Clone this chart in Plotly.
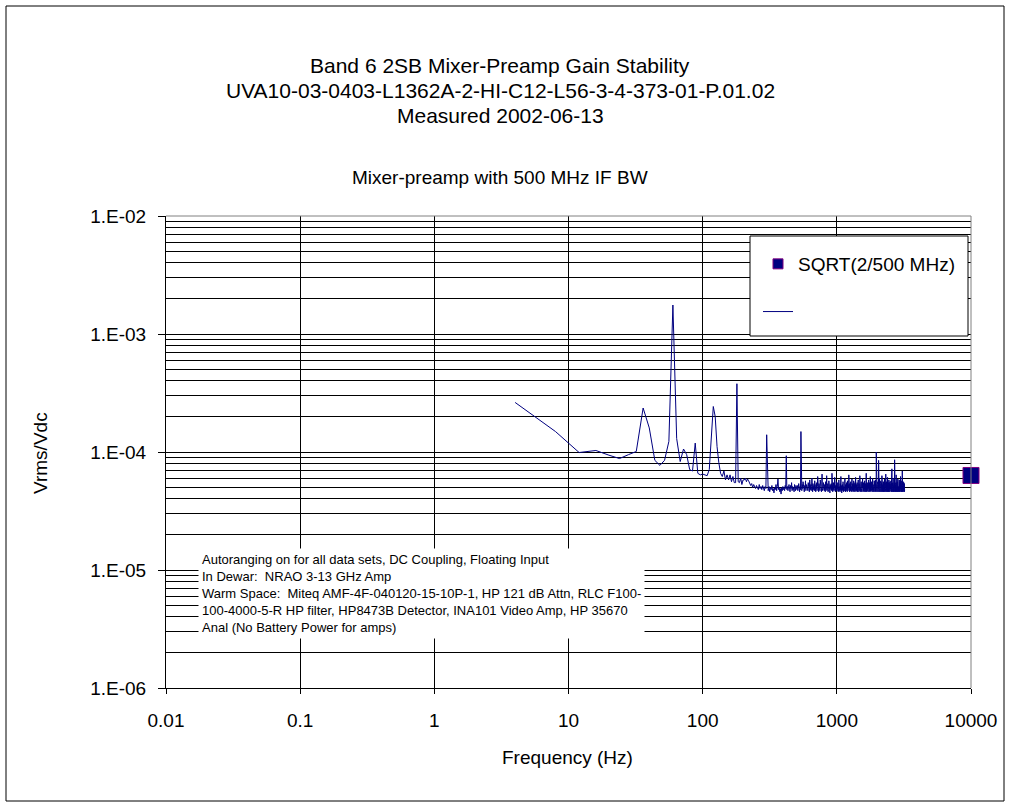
import plotly.graph_objects as go

# ---------------- data ----------------
freq_step_hz = 4  # FFT bin spacing (800 lines, 3.2 kHz span)

# Vrms/Vdc in units of 1e-6, 4 Hz ... 200 Hz
low_band = [263, 149, 99, 103, 94, 88, 95, 101, 236, 160,
            85, 77, 85, 123, 1760, 130, 83, 106, 95, 71,
            69, 119, 66, 64, 65, 64, 63, 71, 145, 243,
            200, 111, 81, 66, 62, 69, 58, 64, 58, 64,
            56, 62, 55, 55, 379, 56, 55, 60, 53, 58]

# 204 Hz ... 3200 Hz, one row per 100 Hz
high_band = [
    58, 60, 56, 59, 57, 55, 52, 54, 50, 53, 51, 49, 52, 50, 48, 53, 49, 51, 48, 52, 50, 47, 51, 49, 140,
    49, 47, 51, 46, 50, 48, 52, 47, 49, 45, 50, 48, 53, 47, 51, 59, 48, 50, 46, 49, 44, 50, 47, 51, 48,
    50, 47, 52, 49, 93, 48, 51, 47, 50, 53, 48, 46, 52, 49, 55, 47, 51, 48, 50, 46, 53, 49, 47, 52, 50,
    48, 52, 47, 50, 54, 49, 46, 51, 48, 149, 50, 47, 53, 49, 56, 48, 51, 46, 52, 49, 57, 47, 50, 53, 48,
    51, 47, 55, 49, 52, 46, 58, 50, 48, 53, 47, 51, 60, 49, 46, 54, 50, 48, 52, 47, 57, 51, 49, 46, 53,
    49, 55, 47, 51, 62, 48, 50, 46, 54, 49, 52, 47, 58, 50, 48, 53, 46, 51, 65, 49, 47, 52, 50, 55, 48,
    51, 47, 53, 49, 46, 56, 50, 48, 52, 63, 47, 51, 49, 54, 46, 50, 48, 57, 52, 47, 50, 45, 53, 49, 51,
    48, 54, 50, 47, 66, 49, 52, 46, 51, 48, 55, 50, 47, 53, 49, 61, 48, 51, 46, 52, 50, 47, 56, 49, 52,
    47, 51, 49, 55, 48, 46, 52, 50, 58, 47, 53, 49, 51, 46, 54, 48, 50, 62, 47, 52, 49, 45, 51, 48, 53,
    50, 47, 56, 49, 52, 46, 51, 48, 54, 50, 47, 60, 49, 52, 46, 53, 48, 51, 47, 55, 50, 48, 52, 46, 57,
    49, 51, 47, 53, 48, 50, 64, 47, 52, 49, 46, 54, 50, 48, 51, 47, 56, 49, 53, 46, 50, 48, 52, 59, 47,
    51, 48, 54, 49, 46, 52, 50, 47, 57, 49, 51, 46, 53, 48, 50, 55, 47, 52, 49, 61, 48, 46, 51, 50, 53,
    47, 52, 49, 55, 48, 51, 46, 50, 53, 48, 58, 47, 51, 49, 46, 54, 50, 48, 52, 47, 63, 49, 51, 46, 50,
    53, 48, 50, 47, 56, 49, 52, 46, 51, 48, 54, 50, 47, 60, 49, 52, 46, 50, 48, 55, 47, 51, 49, 53, 46,
    50, 48, 57, 49, 52, 47, 51, 46, 54, 50, 48, 53, 47, 66, 49, 51, 46, 52, 48, 50, 47, 55, 49, 52, 48,
    51, 46, 53, 49, 50, 47, 58, 48, 52, 46, 51, 49, 55, 47, 50, 48, 53, 46, 62, 49, 51, 47, 54, 48, 50,
    47, 52, 49, 56, 48, 50, 46, 53, 49, 51, 47, 60, 48, 52, 46, 50, 49, 55, 47, 51, 48, 53, 46, 50, 57,
    49, 51, 47, 54, 48, 50, 46, 52, 49, 58, 47, 51, 48, 53, 46, 50, 100, 49, 52, 47, 55, 48, 51, 46, 53,
    50, 47, 52, 49, 56, 48, 51, 46, 53, 49, 50, 85, 47, 52, 48, 55, 46, 51, 49, 60, 47, 50, 48, 53, 46,
    51, 49, 54, 47, 50, 48, 57, 46, 52, 49, 51, 47, 55, 48, 50, 46, 63, 49, 52, 47, 50, 48, 54, 46, 51,
    48, 53, 47, 50, 49, 56, 46, 52, 48, 51, 47, 54, 49, 50, 46, 59, 48, 52, 47, 51, 49, 55, 46, 50, 53,
    47, 51, 49, 65, 48, 50, 46, 53, 49, 52, 47, 56, 48, 51, 46, 50, 49, 54, 47, 52, 48, 61, 46, 50, 49,
    52, 47, 55, 48, 50, 46, 53, 49, 51, 47, 58, 48, 52, 46, 50, 49, 54, 47, 51, 48, 56, 46, 50, 49, 53,
    47, 51, 48, 54, 46, 50, 49, 57, 47, 52, 48, 50, 46, 55, 49, 51, 47, 72, 48, 50, 46, 53, 49, 51, 47,
    52, 48, 55, 46, 50, 49, 60, 47, 51, 48, 53, 46, 50, 49, 56, 47, 52, 48, 50, 46, 54, 49, 51, 86, 47,
    50, 48, 53, 46, 51, 49, 57, 47, 52, 48, 50, 46, 55, 49, 51, 47, 64, 48, 50, 46, 53, 49, 52, 47, 51,
    48, 54, 47, 50, 49, 56, 46, 52, 48, 51, 47, 59, 49, 50, 46, 53, 48, 52, 47, 55, 49, 51, 46, 50, 48,
    53, 47, 51, 49, 58, 48, 50, 46, 54, 49, 52, 47, 50, 48, 56, 46, 51, 49, 53, 47, 62, 48, 50, 46, 52,
    49, 51, 47, 55, 48, 50, 46, 53, 49, 52, 47, 57, 48, 50, 46, 54, 49, 51, 69, 47, 52, 48, 50, 46, 53,
    48, 52, 47, 50, 49, 56, 46, 51, 48, 53, 47, 50, 49, 55, 46, 52, 48, 50, 47, 54, 49, 51, 46, 50, 48,
]

value_scale = 1e-6
spectrum_values = [v * value_scale for v in low_band + high_band]
spectrum_freq = [freq_step_hz * (i + 1) for i in range(len(spectrum_values))]

sqrt_freq = [10000]
sqrt_value = [(2 / 500e6) ** 0.5]

x_tickvals = [0.01, 0.1, 1, 10, 100, 1000, 10000]
x_ticktext = ["0.01", "0.1", "1", "10", "100", "1000", "10000"]
y_tickvals = [1e-6, 1e-5, 1e-4, 1e-3, 1e-2]
y_ticktext = ["1.E-06", "1.E-05", "1.E-04", "1.E-03", "1.E-02"]

title_lines = ["Band 6 2SB Mixer-Preamp Gain Stability",
               "UVA10-03-0403-L1362A-2-HI-C12-L56-3-4-373-01-P.01.02",
               "Measured 2002-06-13"]
subtitle = "Mixer-preamp with 500 MHz IF BW"
note_lines = ["Autoranging on for all data sets, DC Coupling, Floating Input",
              "In Dewar:\u00a0 NRAO 3-13 GHz Amp",
              "Warm Space:\u00a0 Miteq AMF-4F-040120-15-10P-1, HP 121 dB Attn, RLC F100-",
              "100-4000-5-R HP filter, HP8473B Detector, INA101 Video Amp, HP 35670",
              "Anal (No Battery Power for amps)"]

# ---------------- layout helpers ----------------
W, H = 1010, 809
L, R, T, B = 166, 971, 216, 688
PW, PH = R - L, B - T


def px(x):
    return (x - L) / PW


def py(y):
    return (B - y) / PH


FONT = "Liberation Sans, Arial, sans-serif"
NAVY = "#000080"

fig = go.Figure()
# plotted SQRT marker (legend handled by a legend-only twin so its legend symbol is small)
fig.add_trace(go.Scatter(
    x=sqrt_freq, y=sqrt_value, mode="markers", name="SQRT(2/500 MHz)",
    legendgroup="a", showlegend=False, cliponaxis=False,
    marker=dict(symbol="square", size=16, color=NAVY,
                line=dict(color="#800080", width=1)),
))
fig.add_trace(go.Scatter(
    x=[None], y=[None], mode="markers", name="SQRT(2/500 MHz)",
    legendgroup="a", showlegend=True,
    marker=dict(symbol="square", size=10, color=NAVY,
                line=dict(color="#800080", width=1)),
))
fig.add_trace(go.Scatter(
    x=spectrum_freq, y=spectrum_values, mode="lines", name=" ",
    legendgroup="b", line=dict(color=NAVY, width=1),
))

annotations = []
for text, yc in zip(title_lines, [66, 91, 116]):
    annotations.append(dict(text=text, x=px(500), y=py(yc), xref="paper", yref="paper",
                            showarrow=False, xanchor="center", yanchor="middle",
                            font=dict(size=21, color="black", family=FONT)))
annotations.append(dict(text=subtitle, x=px(500), y=py(177), xref="paper", yref="paper",
                        showarrow=False, xanchor="center", yanchor="middle",
                        font=dict(size=19, color="black", family=FONT)))
annotations.append(dict(text="<br>".join(note_lines), x=px(198), y=py(548),
                        xref="paper", yref="paper", showarrow=False,
                        xanchor="left", yanchor="top", align="left",
                        bgcolor="white", borderpad=3,
                        font=dict(size=13, color="black", family=FONT)))
annotations.append(dict(text="Vrms/Vdc", x=px(40), y=py(453), xref="paper", yref="paper",
                        showarrow=False, textangle=-90, xanchor="center", yanchor="middle",
                        font=dict(size=19, color="black", family=FONT)))
annotations.append(dict(text="Frequency (Hz)", x=px(567), y=py(757), xref="paper", yref="paper",
                        showarrow=False, xanchor="center", yanchor="middle",
                        font=dict(size=19, color="black", family=FONT)))

shapes = [
    # outer chart border
    dict(type="rect", xref="paper", yref="paper", x0=px(6), x1=px(1004), y0=py(801), y1=py(6),
         line=dict(color="black", width=1), fillcolor="rgba(0,0,0,0)", layer="below"),
    # top / right plot border (gray)
    dict(type="line", xref="paper", yref="paper", x0=0, x1=1, y0=1, y1=1,
         line=dict(color="#808080", width=1), layer="above"),
    dict(type="line", xref="paper", yref="paper", x0=1, x1=1, y0=0, y1=1,
         line=dict(color="#808080", width=1), layer="above"),
    # legend box
    dict(type="rect", xref="paper", yref="paper", x0=px(750), x1=px(968), y0=py(336), y1=py(236),
         line=dict(color="black", width=1), fillcolor="white", layer="above"),
]

fig.update_layout(
    width=W, height=H,
    margin=dict(l=L, r=W - R, t=T, b=H - B, pad=0),
    paper_bgcolor="white", plot_bgcolor="white",
    font=dict(family=FONT, size=19, color="black"),
    showlegend=True,
    legend=dict(x=px(758), y=py(245), xanchor="left", yanchor="top",
                bgcolor="rgba(0,0,0,0)", borderwidth=0,
                font=dict(size=19, family=FONT, color="black"),
                tracegroupgap=20, itemsizing="trace"),
    annotations=annotations,
    shapes=shapes,
    xaxis=dict(type="log", range=[-2, 4], tickvals=x_tickvals, ticktext=x_ticktext,
               showgrid=True, gridcolor="black", gridwidth=1,
               showline=True, linecolor="black", linewidth=1,
               ticks="outside", ticklen=5, tickcolor="black",
               ticklabelstandoff=10, zeroline=False,
               tickfont=dict(size=19, family=FONT, color="black")),
    yaxis=dict(type="log", range=[-6, -2], tickvals=y_tickvals, ticktext=y_ticktext,
               showgrid=True, gridcolor="black", gridwidth=1,
               minor=dict(dtick="D1", showgrid=True, gridcolor="black", gridwidth=1,
                          ticks=""),
               showline=True, linecolor="black", linewidth=1,
               ticks="outside", ticklen=7, tickcolor="black",
               ticklabelstandoff=8, zeroline=False,
               tickfont=dict(size=19, family=FONT, color="black")),
)

fig.write_html("out.html",
               config={"displayModeBar": False},
               post_script="document.body.style.margin='0';document.body.style.overflow='hidden';")
